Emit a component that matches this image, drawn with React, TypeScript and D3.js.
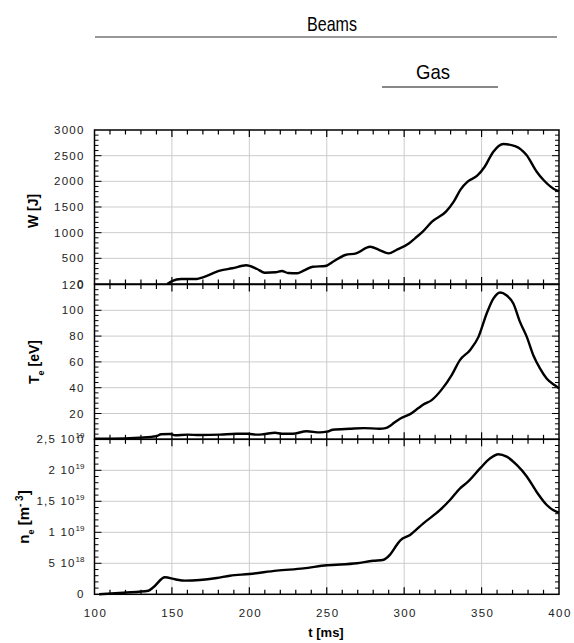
import React, { useEffect, useRef } from "react";
import * as d3 from "d3";

// stored energy W [J]
const wTime = [147, 150, 156, 166, 170, 181, 189, 198, 205, 210, 217, 221, 225, 231, 235, 241, 249, 254, 262, 269, 278, 284, 290, 295, 303, 307, 312, 318, 327, 332, 336.5, 341, 347, 352, 357.6, 364, 371.6, 379, 385.6, 390, 398, 400];
const wValue = [0, 58, 97, 97, 130, 260, 306, 364, 292, 220, 228, 253, 214, 208, 259, 337, 350, 434, 565, 597, 727, 662, 597, 662, 790, 890, 1019, 1214, 1409, 1604, 1844, 1993, 2104, 2285, 2577, 2727, 2688, 2513, 2188, 2026, 1831, 1810];

// electron temperature Te [eV]
const teTime = [100, 110, 129, 140, 143, 149, 152, 160, 168, 181, 192, 199, 205, 209, 216.6, 221, 228, 237, 245.7, 250, 254, 265, 274, 284, 288, 291, 293, 297.3, 303.8, 309, 312.4, 317.8, 324.3, 330.7, 336, 342.5, 348, 353.3, 357.6, 362, 366, 370.5, 374.8, 379.2, 383.4, 387.7, 392, 398, 400];
const teValue = [0.5, 0.5, 1.3, 2.5, 3.9, 4.1, 3.1, 3.6, 3.3, 3.6, 4.3, 4.3, 3.6, 3.9, 5.1, 4.3, 4.3, 6.2, 5.4, 5.9, 7.4, 8.2, 8.7, 8.2, 8.7, 10.5, 12.4, 16, 19.5, 24, 27, 30.4, 38.7, 49.8, 61.4, 69.1, 79.4, 97.5, 109, 113.8, 111.7, 105.3, 91, 79.4, 65.2, 55, 47.2, 41.3, 39.5];

// electron density ne [1e18 m^-3]
const neTime = [103, 118.6, 134.8, 138, 145.5, 152, 158.5, 168, 179, 187.5, 200, 217.7, 235, 250, 269.4, 280, 286.2, 290.9, 295.2, 297.3, 303.8, 312.4, 323.2, 329.6, 336.1, 341.4, 349, 355.4, 360.8, 366.2, 372.7, 379.2, 385.6, 392.1, 398.6, 400];
const neValue = [0, 0.26, 0.58, 1.13, 2.74, 2.42, 2.2, 2.3, 2.63, 3.0, 3.27, 3.81, 4.19, 4.68, 5.0, 5.42, 5.53, 6.4, 7.95, 8.65, 9.57, 11.45, 13.6, 15.2, 17.1, 18.2, 20.3, 21.9, 22.6, 22.2, 20.86, 19.0, 16.5, 14.4, 13.3, 13.2];

const xTickLabels = ["100", "150", "200", "250", "300", "350", "400"];
const wTickLabels = ["0", "500", "1000", "1500", "2000", "2500", "3000"];
const teTickLabels = ["0", "20", "40", "60", "80", "100", "120"];
const neTickLabels = [["0", ""], ["5 10", "18"], ["1 10", "19"], ["1,5 10", "19"], ["2 10", "19"], ["2,5 10", "19"]];

const FONT = "'Liberation Sans', Arial, sans-serif";

const App = () => {
  const svgRef = useRef<SVGSVGElement>(null);

  useEffect(() => {
    const svg = d3.select(svgRef.current);
    svg.selectAll("*").remove();

    const left = 94.5;
    const right = 559;
    const x = d3.scaleLinear().domain([100, 400]).range([left, right]);

    // Beams / Gas phases on top
    svg.append("line").attr("x1", 95).attr("x2", 557).attr("y1", 37).attr("y2", 37)
      .attr("stroke", "#333").attr("stroke-width", 1.2);
    svg.append("text").attr("x", 332).attr("y", 31).attr("text-anchor", "middle")
      .attr("font-family", FONT).attr("font-size", 21)
      .attr("textLength", 50).attr("lengthAdjust", "spacingAndGlyphs")
      .text("Beams");
    svg.append("line").attr("x1", 382).attr("x2", 498).attr("y1", 87).attr("y2", 87)
      .attr("stroke", "#111").attr("stroke-width", 1.2);
    svg.append("text").attr("x", 433).attr("y", 79).attr("text-anchor", "middle")
      .attr("font-family", FONT).attr("font-size", 21)
      .attr("textLength", 34).attr("lengthAdjust", "spacingAndGlyphs")
      .text("Gas");

    const panels = [
      { top: 130, bottom: 284, max: 3000, step: 500, time: wTime, values: wValue, labels: wTickLabels.map((d) => [d, ""]) },
      { top: 284.5, bottom: 439.3, max: 120, step: 20, time: teTime, values: teValue, labels: teTickLabels.map((d) => [d, ""]) },
      { top: 439.3, bottom: 594.3, max: 25, step: 5, time: neTime, values: neValue, labels: neTickLabels },
    ];

    const line = d3.line<[number, number]>()
      .x((d) => x(d[0]))
      .y((d) => d[1])
      .curve(d3.curveMonotoneX);

    panels.forEach((p) => {
      const y = d3.scaleLinear().domain([0, p.max]).range([p.bottom, p.top]);
      const g = svg.append("g");

      // grid
      const majorX = d3.range(150, 400, 50);
      g.selectAll(".gx").data(majorX).join("line")
        .attr("x1", (d) => x(d)).attr("x2", (d) => x(d))
        .attr("y1", p.top).attr("y2", p.bottom)
        .attr("stroke", "#ccc").attr("stroke-width", 1);
      const majorY = d3.range(p.step, p.max, p.step);
      g.selectAll(".gy").data(majorY).join("line")
        .attr("x1", left).attr("x2", right)
        .attr("y1", (d) => y(d)).attr("y2", (d) => y(d))
        .attr("stroke", "#ccc").attr("stroke-width", 1);

      // curve
      const pts = p.time.map((t, i) => [t, y(p.values[i])] as [number, number]);
      g.append("path").datum(pts)
        .attr("fill", "none").attr("stroke", "#000")
        .attr("stroke-width", 2.4).attr("stroke-linejoin", "round")
        .attr("d", line);

      // frame
      g.append("rect").attr("x", left).attr("y", p.top)
        .attr("width", right - left).attr("height", p.bottom - p.top)
        .attr("fill", "none").attr("stroke", "#000").attr("stroke-width", 1.5);

      // x ticks top & bottom, inward
      const xt = d3.range(110, 400, 10);
      const tl = (d: number) => (d % 50 === 0 ? 7 : 4.5);
      g.selectAll(".xtb").data(xt).join("line")
        .attr("x1", (d) => x(d)).attr("x2", (d) => x(d))
        .attr("y1", p.bottom).attr("y2", (d) => p.bottom - tl(d))
        .attr("stroke", "#000").attr("stroke-width", 1.2);
      g.selectAll(".xtt").data(xt).join("line")
        .attr("x1", (d) => x(d)).attr("x2", (d) => x(d))
        .attr("y1", p.top).attr("y2", (d) => p.top + tl(d))
        .attr("stroke", "#000").attr("stroke-width", 1.2);

      // y ticks left & right, inward
      const minor = p.step / 5;
      const yt = d3.range(minor, p.max - minor / 2, minor);
      const yl = (d: number) => (Math.abs(d / p.step - Math.round(d / p.step)) < 1e-6 ? 7 : 4);
      g.selectAll(".ytl").data(yt).join("line")
        .attr("x1", left).attr("x2", (d) => left + yl(d))
        .attr("y1", (d) => y(d)).attr("y2", (d) => y(d))
        .attr("stroke", "#000").attr("stroke-width", 1);
      g.selectAll(".ytr").data(yt).join("line")
        .attr("x1", right).attr("x2", (d) => right - yl(d))
        .attr("y1", (d) => y(d)).attr("y2", (d) => y(d))
        .attr("stroke", "#000").attr("stroke-width", 1);

      // y tick labels (the first label of a lower panel sits on the last of the one above, as in the original)
      const lab = g.selectAll(".yl").data(p.labels).join("text")
        .attr("x", 84.5)
        .attr("y", (d, i) => y(i * p.step) + 4)
        .attr("text-anchor", "end")
        .attr("font-family", FONT).attr("font-size", 11.5)
        .attr("letter-spacing", 1.2)
        .attr("fill", "#222");
      lab.append("tspan").text((d) => d[0]);
      lab.filter((d) => d[1] !== "").append("tspan")
        .attr("dy", -5).attr("font-size", 8).attr("letter-spacing", 0)
        .text((d) => d[1]);
    });

    // x tick labels
    svg.selectAll(".xl").data(xTickLabels).join("text")
      .attr("x", (d) => x(+d) + 1)
      .attr("y", 617)
      .attr("text-anchor", "middle")
      .attr("font-family", FONT).attr("font-size", 11.5)
      .attr("letter-spacing", 1.4).attr("fill", "#222")
      .text((d) => d);

    svg.append("text").attr("x", 326).attr("y", 637).attr("text-anchor", "middle")
      .attr("font-family", FONT).attr("font-size", 13).attr("font-weight", "bold")
      .text("t [ms]");

    // y axis titles
    const title = (cx: number, cy: number, size: number) =>
      svg.append("text")
        .attr("transform", `translate(${cx},${cy}) rotate(-90)`)
        .attr("text-anchor", "middle")
        .attr("font-family", FONT).attr("font-size", size).attr("font-weight", "bold");

    title(37.5, 211, 14).text("W [J]");

    const te = title(38.5, 362, 14);
    te.append("tspan").text("T");
    te.append("tspan").attr("dy", 5).attr("font-size", 9).text("e");
    te.append("tspan").attr("dy", -5).text("  [eV]");

    const ne = title(29, 517, 15);
    ne.append("tspan").text("n");
    ne.append("tspan").attr("dy", 5).attr("font-size", 9).text("e");
    ne.append("tspan").attr("dy", -5).text(" [m");
    ne.append("tspan").attr("dy", -6).attr("font-size", 10).text("- 3");
    ne.append("tspan").attr("dy", 6).text("]");
  }, []);

  return (
    <svg
      ref={svgRef}
      width={574}
      height={643}
      style={{ position: "absolute", left: 0, top: 0, background: "#fff" }}
    ></svg>
  );
};

export default App;
